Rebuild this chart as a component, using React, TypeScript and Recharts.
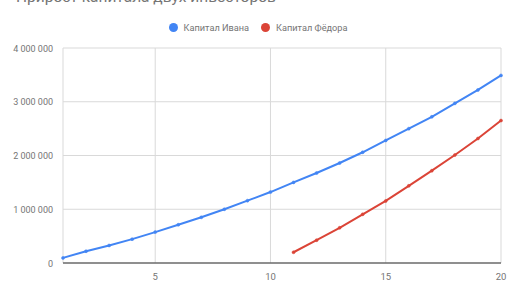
import {
  LineChart,
  Line,
  XAxis,
  YAxis,
  CartesianGrid,
  Legend,
} from "recharts";

const years = [1, 2, 3, 4, 5, 6, 7, 8, 9, 10, 11, 12, 13, 14, 15, 16, 17, 18, 19, 20];
const ivan = [
  95000, 219000, 326000, 444000, 575000, 712000, 850000, 1000000, 1160000, 1320000,
  1500000, 1674000, 1860000, 2060000, 2280000, 2500000, 2720000, 2970000, 3220000, 3490000,
];
const fedor = [
  null, null, null, null, null, null, null, null, null, null,
  200000, 425000, 655000, 906000, 1155000, 1436000, 1717000, 2010000, 2316000, 2650000,
];
const xTicks = [5, 10, 15, 20];
const yTicks = [0, 1000000, 2000000, 3000000, 4000000];

const data = years.map((year, i) => ({
  year,
  ivan: ivan[i],
  fedor: fedor[i],
}));

const fmt = (v: number) =>
  String(v).replace(/\B(?=(\d{3})+(?!\d))/g, " ");

const grey = "#757575";
const font = "Roboto, sans-serif";

const YTick = (props: any) => {
  const { x, y, payload } = props;
  return (
    <text
      x={x}
      y={y}
      dx={-4}
      dy={3.5}
      textAnchor="end"
      fill={grey}
      fontSize={9}
      fontFamily={font}
    >
      {fmt(payload.value)}
    </text>
  );
};

const LegendContent = (props: any) => {
  const { payload } = props;
  return (
    <div
      style={{
        display: "flex",
        justifyContent: "center",
        alignItems: "center",
        height: 14,
        fontFamily: font,
        fontSize: 9.2,
        color: grey,
      }}
    >
      {payload.map((entry: any, i: number) => (
        <div
          key={i}
          style={{ display: "flex", alignItems: "center", marginLeft: i ? 12 : 0 }}
        >
          <span
            style={{
              width: 9,
              height: 9,
              borderRadius: "50%",
              background: entry.color,
              marginRight: 6,
              display: "inline-block",
            }}
          />
          <span>{entry.value}</span>
        </div>
      ))}
    </div>
  );
};

export default function App() {
  return (
    <div
      style={{
        position: "fixed",
        left: 0,
        top: 0,
        width: 516,
        height: 290,
        background: "#fff",
        overflow: "hidden",
        fontFamily: font,
      }}
    >
      <div
        style={{
          position: "absolute",
          left: 16,
          top: -12,
          fontSize: 15.5,
          color: grey,
          whiteSpace: "nowrap",
        }}
      >
        Прирост капитала двух инвесторов
      </div>
      <LineChart
        width={516}
        height={290}
        data={data}
        margin={{ top: 34, right: 15, bottom: 0, left: 0 }}
      >
        <CartesianGrid stroke="#d9d9d9" strokeWidth={1} />
        <Legend
          verticalAlign="top"
          content={<LegendContent />}
          wrapperStyle={{ top: 20, left: 0, width: 516 }}
        />
        <XAxis
          dataKey="year"
          type="number"
          domain={[1, 20]}
          ticks={xTicks}
          height={27}
          tickLine={false}
          axisLine={{ stroke: "#333", strokeWidth: 1 }}
          tick={{ fill: grey, fontSize: 9.5, fontFamily: font }}
          tickMargin={4}
        />
        <YAxis
          width={63}
          domain={[0, 4000000]}
          ticks={yTicks}
          axisLine={false}
          tickLine={false}
          tickSize={4}
          tickMargin={2}
          tick={<YTick />}
        />
        <Line
          dataKey="ivan"
          name="Капитал Ивана"
          stroke="#4285f4"
          strokeWidth={2}
          dot={{ r: 1.5, fill: "#4285f4", stroke: "#4285f4", strokeWidth: 0.5 }}
          isAnimationActive={false}
        />
        <Line
          dataKey="fedor"
          name="Капитал Фёдора"
          stroke="#db4437"
          strokeWidth={2}
          dot={{ r: 1.5, fill: "#db4437", stroke: "#db4437", strokeWidth: 0.5 }}
          isAnimationActive={false}
        />
      </LineChart>
    </div>
  );
}
